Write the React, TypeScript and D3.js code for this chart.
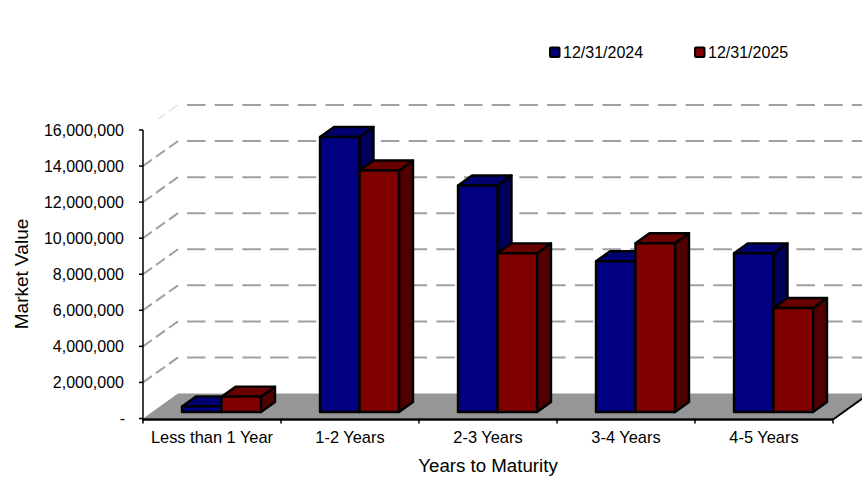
import React from "react";
import * as d3 from "d3";

const categories = ["Less than 1 Year", "1-2 Years", "2-3 Years", "3-4 Years", "4-5 Years"];
const seriesNames = ["12/31/2024", "12/31/2025"];
const values2024 = [310000, 15250000, 12560000, 8360000, 8800000];
const values2025 = [850000, 13390000, 8800000, 9360000, 5770000];
const yTicks = [0, 2000000, 4000000, 6000000, 8000000, 10000000, 12000000, 14000000, 16000000];

const WIDTH = 862;
const HEIGHT = 477;
const FONT = "'Liberation Sans', Arial, sans-serif";
const GRID = "#a0a0a0";

// Front-plane axes
const x = d3.scaleBand<string>().domain(categories).range([143, 833]);
const y = d3.scaleLinear().domain([0, 16000000]).range([418.5, 130]);
const fmt = d3.format(",");

// Oblique projection of the 3D box: full depth of the plot, and the slab occupied by the bars
const DEPTH = { dx: 35, dy: -25 };
const BAR_FRONT = { dx: 10, dy: -6.5 };
const BAR_DEPTH = { dx: 14, dy: -10 };

const BAR_W = 39.5;
const palette = [
  { front: "#000080", top: "#000070", side: "#00005c" },
  { front: "#800000", top: "#680000", side: "#500000" },
];

function Bar({ cat, value, index }: { cat: string; value: number; index: number }) {
  const c = palette[index];
  const x0 = (x(cat) as number) + 29 + BAR_FRONT.dx + index * BAR_W;
  const x1 = x0 + BAR_W;
  const yBase = y(0) + BAR_FRONT.dy;
  const yTop = y(value) + BAR_FRONT.dy;
  const { dx, dy } = BAR_DEPTH;
  const poly = (pts: number[][]) => pts.map((p) => p.join(",")).join(" ");
  const common = { stroke: "#000", strokeWidth: 2.4, strokeLinejoin: "round" as const };
  return (
    <g>
      <polygon {...common} fill={c.side} points={poly([[x1, yTop], [x1 + dx, yTop + dy], [x1 + dx, yBase + dy], [x1, yBase]])} />
      <polygon {...common} fill={c.top} points={poly([[x0, yTop], [x0 + dx, yTop + dy], [x1 + dx, yTop + dy], [x1, yTop]])} />
      <rect {...common} fill={c.front} x={x0} y={yTop} width={BAR_W} height={yBase - yTop} />
    </g>
  );
}

export default function App() {
  const right = x.range()[1];
  const left = x.range()[0];
  const zero = y(0);
  const topTick = yTicks[yTicks.length - 1];
  return (
    <svg
      width={WIDTH}
      height={HEIGHT}
      viewBox={`0 0 ${WIDTH} ${HEIGHT}`}
      style={{ position: "absolute", left: 0, top: 0, background: "#fff" }}
      fontFamily={FONT}
      fill="#000"
    >
      {/* Dashed wall gridlines and their returns along the side wall */}
      {yTicks.slice(1).map((t) => (
        <g key={t} stroke={GRID} strokeWidth={2} fill="none">
          <line
            x1={left + DEPTH.dx + 9}
            x2={WIDTH + 5}
            y1={y(t) + DEPTH.dy}
            y2={y(t) + DEPTH.dy}
            strokeDasharray="18.5 9.2"
          />
          <line
            x1={left + DEPTH.dx}
            y1={y(t) + DEPTH.dy}
            x2={t === topTick ? left + 15 : left}
            y2={t === topTick ? y(t) - 11 : y(t)}
            strokeDasharray="11 5"
            stroke={t === topTick ? "#dcdcdc" : GRID}
            strokeWidth={t === topTick ? 1.2 : 2}
          />
        </g>
      ))}

      {/* Floor */}
      <polygon
        fill="#969696"
        points={[
          [left, zero],
          [left + DEPTH.dx, zero + DEPTH.dy],
          [right + DEPTH.dx, zero + DEPTH.dy],
          [right, zero],
        ]
          .map((p) => p.join(","))
          .join(" ")}
      />

      {/* Bars */}
      {categories.map((cat, i) => (
        <g key={cat}>
          <Bar cat={cat} value={values2024[i]} index={0} />
          <Bar cat={cat} value={values2025[i]} index={1} />
        </g>
      ))}

      {/* Value axis */}
      <line x1={left} x2={left} y1={y(topTick)} y2={zero} stroke="#000" strokeWidth={1.5} />
      {yTicks.map((t) => (
        <g key={t}>
          <line x1={left - 4} x2={left} y1={y(t)} y2={y(t)} stroke="#000" strokeWidth={1.5} />
          <text x={t === 0 ? 125 : 124} y={y(t) + 5.5} textAnchor="end" fontSize={16}>
            {t === 0 ? "-" : fmt(t)}
          </text>
        </g>
      ))}

      {/* Category axis */}
      <line x1={left - 1} x2={right} y1={zero + 1} y2={zero + 1} stroke="#000" strokeWidth={2.5} />
      <line x1={right} y1={zero + 1} x2={right + DEPTH.dx} y2={zero + 1 + DEPTH.dy} stroke="#000" strokeWidth={2} />
      {[...categories.map((c) => x(c) as number), right].map((px) => (
        <line key={px} x1={px} x2={px} y1={zero} y2={zero + 5} stroke="#000" strokeWidth={1.5} />
      ))}
      {categories.map((cat) => (
        <text key={cat} x={(x(cat) as number) + x.bandwidth() / 2} y={443} textAnchor="middle" fontSize={16.4}>
          {cat}
        </text>
      ))}

      {/* Axis titles */}
      <text x={488} y={472} textAnchor="middle" fontSize={18.7}>
        Years to Maturity
      </text>
      <text transform="translate(28,274) rotate(-90)" textAnchor="middle" fontSize={19}>
        Market Value
      </text>

      {/* Legend */}
      {seriesNames.map((name, i) => {
        const lx = 550 + i * 145;
        return (
          <g key={name}>
            <rect x={lx} y={47.5} width={9.5} height={9.5} fill={palette[i].front} stroke="#000" strokeWidth={2} rx={1} />
            <text x={lx + 13} y={57.5} fontSize={16}>
              {name}
            </text>
          </g>
        );
      })}
    </svg>
  );
}
